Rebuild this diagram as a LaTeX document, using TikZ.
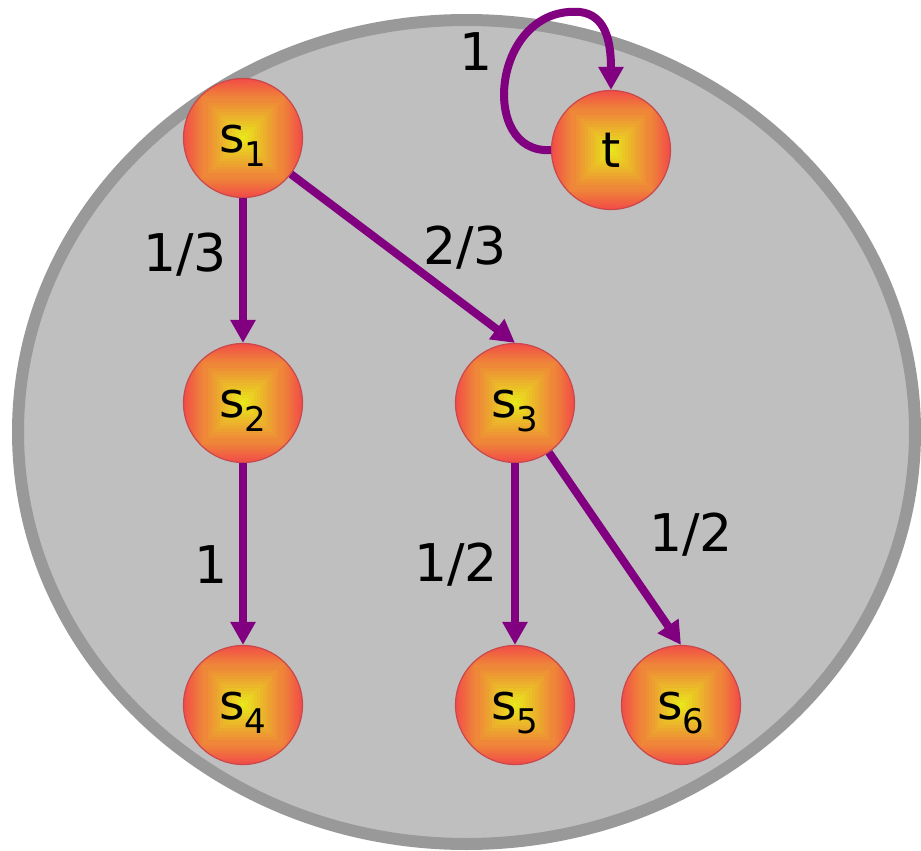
\documentclass[tikz,border=0pt]{standalone}
\usepackage{fontspec}
\setmainfont{DejaVu Sans}
\usetikzlibrary{arrows.meta}
\definecolor{ellfill}{HTML}{BFBFBF}
\definecolor{elldraw}{HTML}{999999}
\definecolor{edgecol}{HTML}{800080}
\definecolor{gred}{HTML}{F24C48}
\definecolor{gorange}{HTML}{EE8838}
\definecolor{gyellow}{HTML}{E8E81A}
\definecolor{nborder}{HTML}{C8484C}
\tikzset{
  state/.style={circle, minimum size=119pt, inner sep=0pt, draw=nborder, line width=1.2pt,
    path picture={
      \foreach \k in {0,...,10} {
        \pgfmathsetmacro\sz{60-2*\k}
        \pgfmathsetmacro\pc{100-\k*100/10}
        \fill[gred!\pc!gorange] ([shift={(-\sz pt,-\sz pt)}]path picture bounding box.center) rectangle ([shift={(\sz pt,\sz pt)}]path picture bounding box.center);
      }
      \foreach \k in {0,...,12} {
        \pgfmathsetmacro\sz{38-3*\k}
        \pgfmathsetmacro\pc{100-\k*100/12}
        \fill[gorange!\pc!gyellow] ([shift={(-\sz pt,-\sz pt)}]path picture bounding box.center) rectangle ([shift={(\sz pt,\sz pt)}]path picture bounding box.center);
      }
    }},
  slabel/.style={inner sep=0pt, font=\fontsize{49}{49}\selectfont},
  elabel/.style={inner sep=0pt, font=\fontsize{52}{52}\selectfont},
  edge/.style={draw=edgecol, line width=8pt, -{Triangle[length=23pt,width=24pt]}},
}
\newcommand{\sub}[1]{\raisebox{-14pt}{\fontsize{34}{34}\selectfont #1}}
\begin{document}
\begin{tikzpicture}[x=1pt,y=-1pt]
\useasboundingbox (0,0) rectangle (921,851);
\draw[fill=ellfill, draw=elldraw, line width=12pt] (466.5,432) ellipse [x radius=448.5, y radius=412];

\node[state] (s1) at (243,138) {};
\node[state] (t) at (611,150) {};
\node[state] (s2) at (243,403) {};
\node[state] (s3) at (515,403) {};
\node[state] (s4) at (243,705) {};
\node[state] (s5) at (515,705) {};
\node[state] (s6) at (681,705) {};

\node[slabel] (s1l) at (243,146) {s\sub{1}};
\node[slabel] (tl) at (611,150) {t};
\node[slabel] (s2l) at (243,411) {s\sub{2}};
\node[slabel] (s3l) at (515,411) {s\sub{3}};
\node[slabel] (s4l) at (243,713) {s\sub{4}};
\node[slabel] (s5l) at (515,713) {s\sub{5}};
\node[slabel] (s6l) at (681,713) {s\sub{6}};

\draw[edge] (s1) -- (s2);
\draw[edge] (s1) -- (s3.north);
\draw[edge] (s2) -- (s4);
\draw[edge] (s3) -- (s5);
\draw[edge] (s3) -- (s6.north);
\draw[edge] (t.west) .. controls (478,155) and (492,5) .. (580,12) .. controls (605,15) and (611,40) .. (t.north);

\node[elabel] (l13) at (185,255) {1/3};
\node[elabel] (l23) at (465,248) {2/3};
\node[elabel] (l1a) at (211,565) {1};
\node[elabel] (l12a) at (456,565) {1/2};
\node[elabel] (l12b) at (691,535) {1/2};
\node[elabel] (l1t) at (476,52) {1};
\end{tikzpicture}
\end{document}
